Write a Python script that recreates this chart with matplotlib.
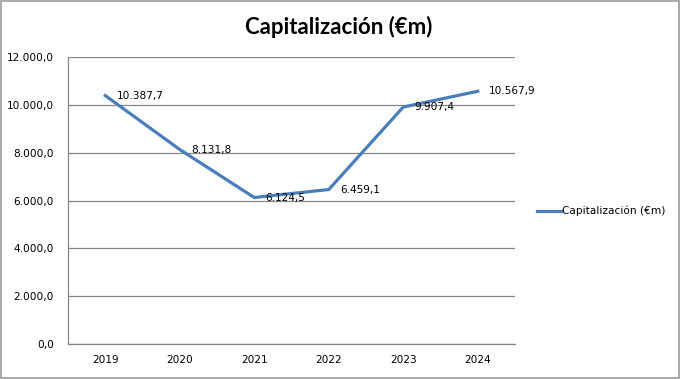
"""Capitalización (€m) line chart, Excel-style."""

import matplotlib.pyplot as plt
from matplotlib.patches import Rectangle
from matplotlib.ticker import FuncFormatter

YEARS = ["2019", "2020", "2021", "2022", "2023", "2024"]
CAPITALIZACION = [10387.7, 8131.8, 6124.5, 6459.1, 9907.4, 10567.9]
SERIES_NAME = "Capitalización (€m)"
TITLE = "Capitalización (€m)"

LINE_COLOR = "#4a7ebb"
GRID_COLOR = "#868686"
FONT_SIZE = 7.6


def es_format(value, decimals=1):
    text = f"{value:,.{decimals}f}"
    return text.replace(",", "X").replace(".", ",").replace("X", ".")


def main() -> None:
    fig = plt.figure(figsize=(6.81, 3.79), dpi=100)
    ax = fig.add_axes([68 / 681, 1 - 344 / 379, (515 - 68) / 681, (344 - 57) / 379])

    x = range(len(YEARS))
    ax.plot(x, CAPITALIZACION, color=LINE_COLOR, linewidth=2.3, label=SERIES_NAME,
            solid_joinstyle="miter")

    for xi, val in zip(x, CAPITALIZACION):
        ax.annotate(es_format(val), (xi, val), xytext=(8, 0), textcoords="offset points",
                    ha="left", va="center", fontsize=FONT_SIZE, family="DejaVu Sans")

    ax.set_xlim(-0.5, len(YEARS) - 0.5)
    ax.set_ylim(0, 12000)
    ax.set_yticks(range(0, 12001, 2000))
    ax.yaxis.set_major_formatter(FuncFormatter(lambda v, _: es_format(v)))
    ax.set_xticks(list(x))
    ax.set_xticklabels(YEARS)
    ax.tick_params(axis="both", length=0, labelsize=FONT_SIZE, pad=8)
    ax.tick_params(axis="y", pad=10)

    ax.grid(axis="y", color=GRID_COLOR, linewidth=0.9)
    ax.set_axisbelow(True)
    for side in ("top", "right"):
        ax.spines[side].set_visible(False)
    for side in ("left", "bottom"):
        ax.spines[side].set_color(GRID_COLOR)
        ax.spines[side].set_linewidth(0.9)

    fig.text(339 / 681, 1 - 27 / 379, TITLE, ha="center", va="center",
             fontsize=16, fontweight="bold", family="Lato")

    fig.legend(loc="center left", bbox_to_anchor=(527 / 681, 1 - 211 / 379),
               frameon=False, fontsize=FONT_SIZE, handlelength=2.3, handletextpad=0.1)

    fig.patches.append(Rectangle((0.001, 0.002), 0.996, 0.995, transform=fig.transFigure,
                                 fill=False, edgecolor="#9a9a9a", linewidth=1.2))

    fig.savefig("out.png", dpi=100)
    plt.close(fig)


if __name__ == "__main__":
    main()
